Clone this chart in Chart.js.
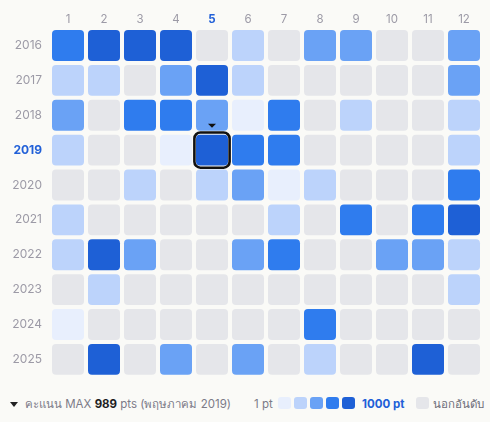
<!DOCTYPE html>
<html lang="th">
<head>
<meta charset="utf-8">
<script src="https://cdn.jsdelivr.net/npm/chart.js@4.4.1/dist/chart.umd.min.js"></script>
<style>
  body { margin: 0; background: #fafaf7; font-family: Inter, "Noto Sans", sans-serif; }
  #wrap { position: relative; width: 490px; height: 422px; }
  #box { position: absolute; left: 0; top: 0; width: 490px; height: 392px; }
  .foot { position: absolute; top: 396px; height: 16px; line-height: 16px; font-size: 11.5px; color: #7c7b88; white-space: nowrap; }
  .sw { position: absolute; top: 397px; width: 13px; height: 12px; border-radius: 3px; }
  .tri { display: inline-block; width: 0; height: 0; border-left: 4px solid transparent; border-right: 4px solid transparent; border-top: 5.5px solid #222; margin-right: 7px; vertical-align: 1px; }
</style>
</head>
<body>
<div id="wrap">
  <div id="box"><canvas id="heat"></canvas></div>
  <div class="foot" style="left:10px"><span class="tri"></span><span id="maxText"></span></div>
  <div class="foot" style="left:254px">1 pt</div>
  <div id="swatches"></div>
  <div class="foot" style="left:362px; color:#2160d8; font-weight:bold">1000 pt</div>
  <div class="sw" id="emptySw" style="left:416px"></div>
  <div class="foot" style="left:433px; color:#6d6c78">นอกอันดับ</div>
</div>
<script>
// Data
const years = ["2016", "2017", "2018", "2019", "2020", "2021", "2022", "2023", "2024", "2025"];
const months = ["1", "2", "3", "4", "5", "6", "7", "8", "9", "10", "11", "12"];
const thaiMonths = ["มกราคม", "กุมภาพันธ์", "มีนาคม", "เมษายน", "พฤษภาคม", "มิถุนายน",
  "กรกฎาคม", "สิงหาคม", "กันยายน", "ตุลาคม", "พฤศจิกายน", "ธันวาคม"];
// คะแนนต่อเดือน (null = นอกอันดับ)
const pts = [
  [720, 880, 910, 860, null, 310, null, 520, 480, null, null, 560],
  [260, 300, null, 540, 940, 280, null, null, null, null, null, 510],
  [470, null, 760, 690, 530, 120, 740, null, 270, null, null, 330],
  [290, null, null, 90, 989, 780, 710, null, null, null, null, 240],
  [null, null, 320, null, 350, 560, 60, 300, null, null, null, 730],
  [270, null, null, null, null, null, 340, null, 750, null, 680, 870],
  [310, 920, 500, null, null, 470, 700, null, null, 450, 540, 280],
  [null, 330, null, null, null, null, null, null, null, null, null, 290],
  [110, null, null, null, null, null, null, 720, null, null, null, null],
  [null, 890, null, 520, null, 490, null, 260, null, null, 850, null],
];
const levelCuts = [200, 400, 600, 800];
const levelColors = ["#e8effd", "#bcd3fb", "#6aa2f5", "#2f7cee", "#1e60d6"];
const emptyColor = "#e5e6ea";
const labelGray = "#9c9aa6";
const hiBlue = "#2160d8";

// หาค่าสูงสุด
let maxV = -1, maxYi = 0, maxMi = 0;
pts.forEach((row, yi) => row.forEach((v, mi) => {
  if (v !== null && v > maxV) { maxV = v; maxYi = yi; maxMi = mi; }
}));

function colorFor(v) {
  if (v === null) return emptyColor;
  let lv = 0;
  while (lv < levelCuts.length && v >= levelCuts[lv]) lv++;
  return levelColors[lv];
}

// Footer
document.getElementById("maxText").innerHTML =
  'คะแนน MAX <b style="color:#1d1d22">' + maxV + '</b> pts (' + thaiMonths[maxMi] + ' ' + years[maxYi] + ')';
const swBox = document.getElementById("swatches");
levelColors.forEach((c, i) => {
  const d = document.createElement("div");
  d.className = "sw";
  d.style.left = (278 + i * 16) + "px";
  d.style.background = c;
  swBox.appendChild(d);
});
document.getElementById("emptySw").style.background = emptyColor;

// กรอบเดือนที่ได้คะแนนสูงสุด
const markPlugin = {
  id: "mark",
  afterDatasetsDraw(chart) {
    const { ctx, scales: { x, y } } = chart;
    const cx = x.getPixelForValue(maxMi + 1);
    const cy = y.getPixelForValue(maxYi);
    ctx.save();
    ctx.lineWidth = 2.6;
    ctx.strokeStyle = "#111";
    ctx.beginPath();
    ctx.roundRect(cx - 17.6, cy - 17.6, 35.2, 35.2, 6);
    ctx.stroke();
    ctx.fillStyle = "#111";
    ctx.beginPath();
    ctx.moveTo(cx - 4, cy - 26.3);
    ctx.lineTo(cx + 4, cy - 26.3);
    ctx.lineTo(cx, cy - 22.3);
    ctx.closePath();
    ctx.fill();
    ctx.restore();
  },
};

new Chart("heat", {
  type: "bar",
  data: {
    labels: years,
    datasets: months.map((m, mi) => ({
      label: m,
      data: years.map(() => [mi + 0.5, mi + 1.5]),
      backgroundColor: (c) => colorFor(pts[c.dataIndex][mi]),
      grouped: false,
      barPercentage: 1,
      categoryPercentage: 1,
      borderRadius: 4,
      borderSkipped: false,
      inflateAmount: -2,
    })),
  },
  options: {
    indexAxis: "y",
    responsive: true,
    maintainAspectRatio: false,
    animation: false,
    layout: { padding: { top: 2, right: 8, bottom: 4, left: 0 } },
    plugins: { legend: { display: false }, tooltip: { enabled: false } },
    scales: {
      x: {
        type: "linear",
        position: "top",
        min: 0.5,
        max: 12.5,
        grid: { display: false, drawTicks: false },
        border: { display: false },
        afterBuildTicks: (s) => { s.ticks = months.map((m, i) => ({ value: i + 1 })); },
        afterFit: (s) => { s.height = 26; },
        ticks: {
          padding: 2,
          maxRotation: 0,
          autoSkip: false,
          callback: (v, i) => months[i],
          color: (c) => (c.index === maxMi ? hiBlue : labelGray),
          font: (c) => ({ family: "Inter", size: 11.5, weight: c.index === maxMi ? "bold" : "normal" }),
        },
      },
      y: {
        type: "category",
        grid: { display: false, drawTicks: false },
        border: { display: false },
        afterFit: (s) => { s.width = 50; },
        ticks: {
          padding: 8,
          color: (c) => (c.index === maxYi ? hiBlue : labelGray),
          font: (c) => ({ family: "Inter", size: 12, weight: c.index === maxYi ? "bold" : "normal" }),
        },
      },
    },
  },
  plugins: [markPlugin],
});
</script>
</body>
</html>
